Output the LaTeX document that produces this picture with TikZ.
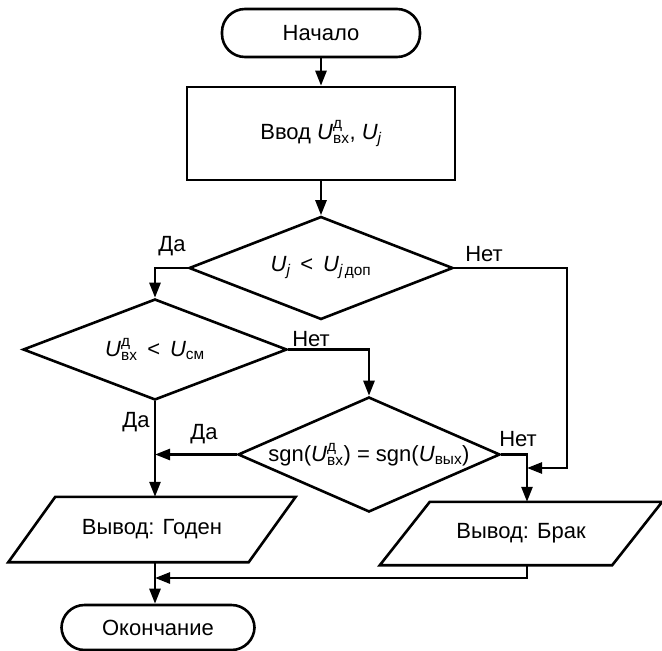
\documentclass[tikz,border=0pt]{standalone}
\usepackage{amsmath}
\usepackage{fontspec}
\setmainfont{Liberation Sans}
\usetikzlibrary{shapes.geometric,arrows.meta}
\newcommand\Uu[2]{\textit{U}$^{\text{#2}}_{\text{#1}}$}
\newcommand\Uj{\textit{U}$_{\textit{j}}$}
\begin{document}
\begin{tikzpicture}[x=1pt,y=-1pt,
  every node/.style={font=\fontsize{22}{26}\selectfont},
  shp/.style={draw, line width=2.6pt, inner sep=0pt},
  term/.style={shp, rectangle, rounded corners=23pt},
  dec/.style={shp, diamond},
  arr/.style={line width=2.6pt, -{Triangle[length=15pt,width=11pt]}}]
\useasboundingbox (0,0) rectangle (662,651);
% nodes
\node[term, minimum width=198pt, minimum height=48pt] (start) at (321,33) {Начало};
\node[shp, minimum width=268pt, minimum height=93pt] (inp) at (321,133.5) {Ввод \Uu{вх}{д}, \Uj};
\node[dec, minimum width=264pt, minimum height=103pt,
  label=center:{\Uj\ \,<\ \,\textit{U}$_{\textit{j}\,\text{доп}}$}] (d1) at (321,268) {};
\node[dec, minimum width=264pt, minimum height=101pt,
  label=center:{\Uu{вх}{д}\ \,<\ \,\textit{U}$_{\text{см}}$}] (d2) at (155,349.5) {};
\node[dec, minimum width=262pt, minimum height=115pt,
  label=center:{sgn(\Uu{вх}{д}) = sgn(\textit{U}$_{\text{вых}}$)}] (d3) at (369,454.5) {};
\node[inner sep=0pt, minimum width=240pt, minimum height=65pt] (good) at (152,529.5) {Вывод: Годен};
\draw[shp] ([xshift=23.5pt]good.north west) -- ([xshift=23.5pt]good.north east)
  -- ([xshift=-23.5pt]good.south east) -- ([xshift=-23.5pt]good.south west) -- cycle;
\node[inner sep=0pt, minimum width=232pt, minimum height=63pt] (brk) at (521,533.5) {Вывод: Брак};
\draw[shp] ([xshift=25pt]brk.north west) -- ([xshift=25pt]brk.north east)
  -- ([xshift=-25pt]brk.south east) -- ([xshift=-25pt]brk.south west) -- cycle;
\node[term, minimum width=193pt, minimum height=45pt] (end) at (158,627.5) {Окончание};
% labels
\node (y1) at (172,246) {Да};
\node (n1) at (484,254) {Нет};
\node (n2) at (311,339) {Нет};
\node (y2) at (136,422) {Да};
\node (y3) at (204,434) {Да};
\node (n3) at (518,439) {Нет};
% helper coordinates
\coordinate (rb) at (527,455);
\coordinate (k1) at (567,468);
\coordinate (k2) at (527,468);
\coordinate (m1) at (527,578);
\coordinate (m2) at (155,578);
% connectors
\draw[arr] (start) -- (inp);
\draw[arr] (inp) -- (d1);
\draw[arr] (d1.west) -| (d2.north);
\draw[arr] (d2.east) -| (d3.north);
\draw[arr] (d1.east) -| (k1) -- (k2);
\draw[arr] (d3.west) -- (d3.west -| d2.south);
\draw[arr] (d2.south) -- (d2.south |- good.north);
\draw[arr] (d3.east) -| (rb |- brk.north);
\draw[arr] (d2.south |- good.south) -- (d2.south |- end.north);
\draw[arr] (m1 |- brk.south) -- (m1) -- (m2);
\end{tikzpicture}
\end{document}
